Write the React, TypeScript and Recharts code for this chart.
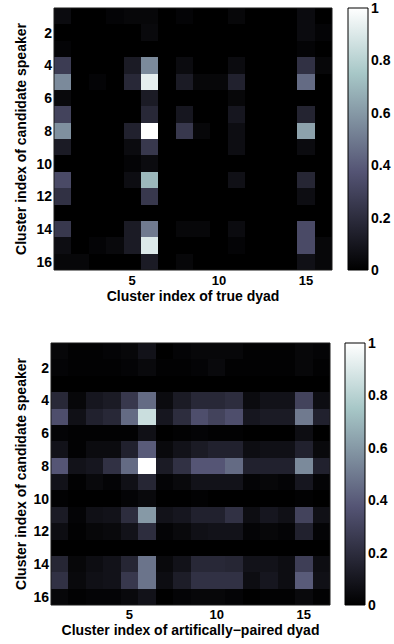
import React from 'react';
import { ComposedChart, XAxis, YAxis, ReferenceArea } from 'recharts';

// cluster indices (columns = dyad cluster, rows = candidate speaker cluster)
const dyadClusters = [1, 2, 3, 4, 5, 6, 7, 8, 9, 10, 11, 12, 13, 14, 15, 16];
const speakerClusters = [1, 2, 3, 4, 5, 6, 7, 8, 9, 10, 11, 12, 13, 14, 15, 16];
const xTicks = [5, 10, 15];
const yTicks = [2, 4, 6, 8, 10, 12, 14, 16];
const barTicks = [0, 0.2, 0.4, 0.6, 0.8, 1];

// normalised similarity, true dyads
const trueDyad: number[][] = [
    [0.05, 0, 0, 0.02, 0.03, 0.03, 0, 0.02, 0, 0, 0.03, 0, 0, 0, 0.05, 0],
    [0, 0, 0, 0, 0, 0.04, 0, 0, 0, 0, 0, 0, 0, 0, 0.05, 0.02],
    [0.02, 0, 0, 0, 0, 0, 0, 0, 0, 0, 0, 0, 0, 0, 0.02, 0],
    [0.27, 0, 0, 0, 0.12, 0.55, 0, 0.05, 0, 0, 0.05, 0, 0, 0, 0.22, 0.03],
    [0.55, 0, 0.02, 0, 0.18, 0.93, 0, 0.12, 0.03, 0.03, 0.15, 0, 0, 0, 0.45, 0],
    [0.04, 0, 0, 0, 0, 0.12, 0, 0, 0, 0, 0.03, 0, 0, 0, 0, 0],
    [0.3, 0, 0, 0, 0, 0.18, 0, 0.1, 0, 0, 0.1, 0, 0, 0, 0.16, 0],
    [0.57, 0, 0, 0, 0.15, 1, 0, 0.25, 0.03, 0, 0.06, 0, 0, 0, 0.63, 0],
    [0.12, 0, 0, 0, 0.05, 0.25, 0, 0, 0, 0, 0.06, 0, 0, 0, 0.05, 0],
    [0, 0, 0, 0, 0.02, 0.05, 0, 0, 0, 0, 0, 0, 0, 0, 0, 0],
    [0.33, 0, 0, 0, 0.06, 0.7, 0, 0, 0, 0, 0.07, 0, 0, 0, 0.17, 0],
    [0.22, 0, 0, 0, 0, 0.25, 0, 0, 0, 0, 0, 0, 0, 0, 0.06, 0],
    [0, 0, 0, 0, 0, 0, 0, 0, 0, 0, 0, 0, 0, 0, 0, 0],
    [0.25, 0, 0, 0, 0.12, 0.5, 0, 0.03, 0.03, 0, 0.05, 0, 0, 0, 0.33, 0],
    [0.06, 0, 0.02, 0.04, 0.12, 0.9, 0, 0, 0, 0, 0.02, 0, 0, 0, 0.33, 0.03],
    [0.03, 0.03, 0, 0, 0, 0.12, 0, 0.03, 0, 0, 0, 0, 0, 0, 0.07, 0.03],
];

// normalised similarity, artificially paired dyads
const pairedDyad: number[][] = [
    [0.03, 0.01, 0.01, 0.02, 0.03, 0.08, 0, 0.02, 0.03, 0.03, 0.03, 0.01, 0.01, 0.01, 0.03, 0.02],
    [0.02, 0.01, 0.01, 0.01, 0.02, 0.04, 0.01, 0.01, 0.02, 0.04, 0.01, 0.01, 0.01, 0.01, 0.03, 0.01],
    [0, 0, 0, 0, 0, 0, 0, 0, 0, 0, 0, 0, 0, 0, 0, 0],
    [0.18, 0.03, 0.1, 0.12, 0.25, 0.45, 0.05, 0.12, 0.18, 0.18, 0.2, 0.05, 0.08, 0.08, 0.3, 0.06],
    [0.35, 0.07, 0.15, 0.18, 0.45, 0.85, 0.1, 0.2, 0.35, 0.3, 0.35, 0.1, 0.12, 0.12, 0.5, 0.15],
    [0.02, 0.01, 0.01, 0.01, 0.01, 0.07, 0, 0.01, 0.02, 0.01, 0.01, 0, 0, 0, 0.06, 0],
    [0.08, 0.01, 0.05, 0.05, 0.15, 0.4, 0.04, 0.08, 0.12, 0.15, 0.15, 0.06, 0.07, 0.07, 0.15, 0.04],
    [0.38, 0.08, 0.1, 0.22, 0.45, 1, 0.12, 0.22, 0.38, 0.38, 0.45, 0.15, 0.15, 0.15, 0.55, 0.15],
    [0.08, 0.01, 0.04, 0.02, 0.07, 0.17, 0.02, 0.04, 0.08, 0.08, 0.08, 0.02, 0.03, 0.02, 0.1, 0.02],
    [0.01, 0, 0, 0, 0.02, 0.04, 0, 0, 0.01, 0, 0, 0, 0, 0, 0.01, 0],
    [0.12, 0.02, 0.07, 0.08, 0.2, 0.6, 0.08, 0.1, 0.15, 0.15, 0.22, 0.06, 0.1, 0.07, 0.3, 0.07],
    [0.06, 0.01, 0.03, 0.04, 0.08, 0.2, 0.02, 0.04, 0.07, 0.08, 0.08, 0.02, 0.03, 0.02, 0.15, 0.02],
    [0, 0, 0, 0, 0, 0, 0, 0, 0, 0, 0, 0, 0, 0, 0, 0],
    [0.17, 0.03, 0.06, 0.08, 0.17, 0.48, 0.04, 0.08, 0.18, 0.18, 0.17, 0.08, 0.08, 0.06, 0.28, 0.06],
    [0.22, 0.04, 0.07, 0.08, 0.25, 0.48, 0.06, 0.13, 0.22, 0.22, 0.22, 0.06, 0.1, 0.06, 0.4, 0.07],
    [0.03, 0.01, 0.02, 0.02, 0.04, 0.08, 0, 0.02, 0.03, 0.03, 0.02, 0, 0.01, 0.01, 0.04, 0.01],
];

const FONT = '"Liberation Sans", Arial, Helvetica, sans-serif';
const tickStyle = { fill: '#000', fontSize: 14, fontWeight: 700, fontFamily: FONT };

// matlab "bone" colormap
const clamp = (v: number) => Math.max(0, Math.min(1, v));
function bone(v: number) {
    const r = (7 * v + clamp((v - 0.75) / 0.25)) / 8;
    const g = (7 * v + clamp((v - 0.375) / 0.375)) / 8;
    const b = (7 * v + clamp(v / 0.375)) / 8;
    const h = (c: number) => Math.round(c * 255);
    return `rgb(${h(r)},${h(g)},${h(b)})`;
}

// plain crisp rect so neighbouring cells don't show seams
const CellShape = (props: any) => (
    <rect x={props.x} y={props.y} width={props.width} height={props.height} fill={props.fill} shapeRendering="crispEdges" />
);

function Heatmap({ values, xLabel, width, yAxisW, tickSize, labelOffset }: {
    values: number[][]; xLabel: string; width: number; yAxisW: number; tickSize: number; labelOffset: number;
}) {
    return (
        <ComposedChart width={width} height={310} margin={{ top: 8, right: 8, bottom: 10, left: 0 }}>
            <XAxis
                type="number"
                dataKey="x"
                domain={[0.5, 16.5]}
                allowDataOverflow
                ticks={xTicks}
                tickLine={false}
                axisLine={false}
                tickSize={tickSize}
                tickMargin={2}
                height={30}
                tick={{ ...tickStyle, fontSize: 13 }}
                label={{ value: xLabel, position: 'insideBottom', offset: labelOffset, style: tickStyle }}
            />
            <YAxis
                type="number"
                dataKey="y"
                domain={[0.5, 16.5]}
                allowDataOverflow
                reversed
                ticks={yTicks}
                interval={0}
                tickLine={false}
                axisLine={false}
                tickSize={1}
                tickMargin={1}
                width={yAxisW}
                tick={tickStyle}
                label={{
                    value: 'Cluster index of candidate speaker',
                    angle: -90,
                    position: 'insideLeft',
                    offset: 21,
                    style: { ...tickStyle, textAnchor: 'middle' },
                }}
            />
            {speakerClusters.map((row, i) =>
                dyadClusters.map((col, j) => (
                    <ReferenceArea
                        key={`${row}-${col}`}
                        x1={col - 0.5}
                        x2={col + 0.5}
                        y1={row - 0.5}
                        y2={row + 0.5}
                        fill={bone(values[i][j])}
                        fillOpacity={1}
                        ifOverflow="visible"
                        shape={CellShape}
                    />
                ))
            )}
            <ReferenceArea x1={0.5} x2={16.5} y1={0.5} y2={16.5} fill="none" stroke="#1a1a1a" strokeWidth={1} ifOverflow="visible" />
        </ComposedChart>
    );
}

function ColorBar({ id }: { id: string }) {
    return (
        <ComposedChart width={54} height={310} margin={{ top: 8, right: 0, bottom: 40, left: 8 }}>
            <defs>
                <linearGradient id={id} x1="0" y1="1" x2="0" y2="0">
                    <stop offset="0" stopColor={bone(0)} />
                    <stop offset="0.375" stopColor={bone(0.375)} />
                    <stop offset="0.75" stopColor={bone(0.75)} />
                    <stop offset="1" stopColor={bone(1)} />
                </linearGradient>
            </defs>
            <XAxis type="number" dataKey="x" domain={[0, 1]} allowDataOverflow hide />
            <YAxis
                type="number"
                dataKey="y"
                orientation="right"
                domain={[0, 1]}
                allowDataOverflow
                ticks={barTicks}
                interval={0}
                tickLine={false}
                axisLine={false}
                tickSize={1}
                tickMargin={2}
                width={26}
                tick={{ ...tickStyle, textAnchor: 'start' }}
            />
            <ReferenceArea x1={0} x2={1} y1={0} y2={1} fill={`url(#${id})`} fillOpacity={1} stroke="#000" strokeWidth={1} ifOverflow="visible" />
        </ComposedChart>
    );
}

export default function App() {
    return (
        <div style={{ position: 'absolute', left: 0, top: 0, width: 394, height: 644, background: '#fff' }}>
            <div style={{ position: 'absolute', left: 0, top: 0 }}>
                <Heatmap values={trueDyad} xLabel="Cluster index of true dyad" width={340} yAxisW={54} tickSize={4} labelOffset={-1} />
            </div>
            <div style={{ position: 'absolute', left: 340, top: 0 }}>
                <ColorBar id="boneTop" />
            </div>
            <div style={{ position: 'absolute', left: 0, top: 335 }}>
                <Heatmap values={pairedDyad} xLabel="Cluster index of artifically−paired dyad" width={338} yAxisW={51} tickSize={3} labelOffset={0} />
            </div>
            <div style={{ position: 'absolute', left: 337, top: 335 }}>
                <ColorBar id="boneBottom" />
            </div>
        </div>
    );
}
